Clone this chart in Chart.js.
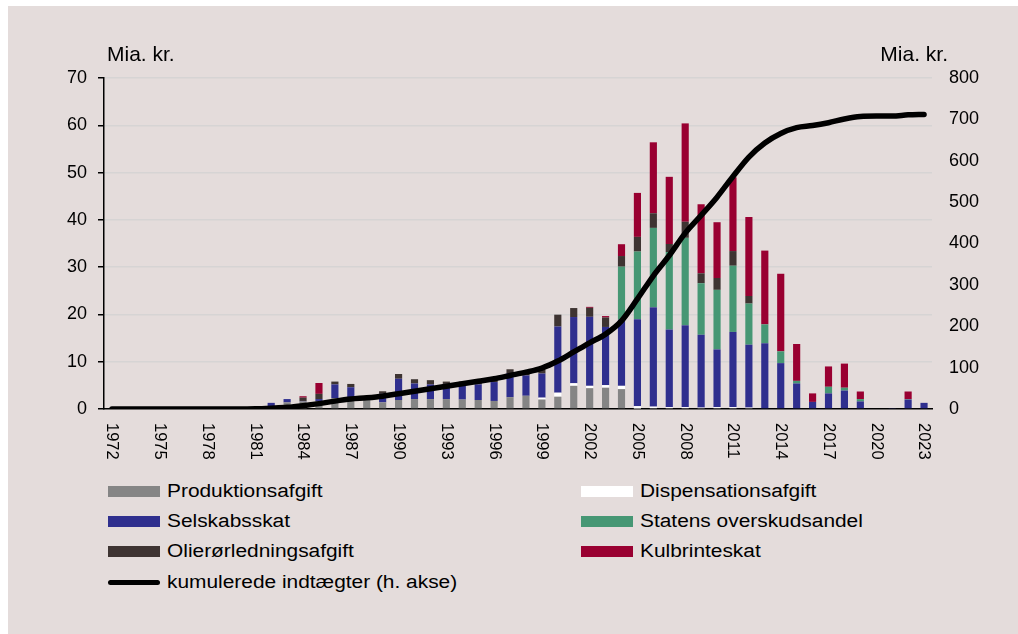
<!DOCTYPE html>
<html>
<head>
<meta charset="utf-8">
<script src="https://cdn.jsdelivr.net/npm/chart.js@4.4.1/dist/chart.umd.min.js"></script>
<style>
  html, body { margin: 0; padding: 0; background: #ffffff; overflow: hidden; width: 1018px; height: 634px; }
  #frame { position: absolute; left: 8px; top: 6px; width: 1010px; height: 628px; background: #e4dcdb; overflow: hidden; }
  #chart { position: absolute; left: 0; top: 0; }
  #legend { position: absolute; left: 100px; top: 470px; display: grid; grid-template-columns: 473px 340px; grid-auto-rows: 30.4px;
    font-family: "Liberation Sans", Arial, sans-serif; font-size: 18px; color: #000; }
  .item { display: flex; align-items: center; white-space: nowrap; }
  .swatch { width: 52px; height: 11px; margin-right: 7px; flex: none; }
  .swatch.line { height: 5px; border-radius: 3px; }
  .label { display: inline-block; transform: scaleX(1.16); transform-origin: left center; }
</style>
</head>
<body>
<div id="frame">
  <canvas id="chart" width="1010" height="470"></canvas>
  <div id="legend"></div>
</div>
<script>
// Data (mia. kr.)
const years = ['1972','1973','1974','1975','1976','1977','1978','1979','1980','1981',
    '1982','1983','1984','1985','1986','1987','1988','1989','1990','1991',
    '1992','1993','1994','1995','1996','1997','1998','1999','2000','2001',
    '2002','2003','2004','2005','2006','2007','2008','2009','2010','2011',
    '2012','2013','2014','2015','2016','2017','2018','2019','2020','2021',
    '2022','2023']
const year_ticks = ['1972','1975','1978','1981','1984','1987','1990','1993','1996','1999',
    '2002','2005','2008','2011','2014','2017','2020','2023']

const produktion = [0,0,0,0,0,0,0,0,0,0,
    0.3,1.4,1.6,1.7,2.3,2.5,2.4,1.4,1.9,2.1,
    2.1,2.1,2.0,1.9,1.7,2.5,2.8,2.0,2.6,4.9,
    4.4,4.5,4.2,0.1,0,0,0,0,0,0,
    0,0,0,0,0,0,0,0,0,0,
    0,0]
const dispensation = [0,0,0,0,0,0,0,0,0,0,
    0,0,0,0,0,0,0,0,0,0,
    0,0,0,0,0,0,0,0.4,0.85,0.55,
    0.5,0.55,0.7,0.5,0.5,0.4,0.4,0.3,0.4,0.4,
    0.3,0,0,0,0,0,0,0,0,0,
    0,0]
const selskabsskat = [0,0,0,0,0,0,0,0,0,0,
    1.0,0.7,0.1,0.4,2.9,2.1,0,1.8,4.5,3.3,
    3.1,3.2,3.2,3.3,4.0,5.1,4.3,5.1,14.0,14.0,
    14.6,12.3,14.0,18.4,21.0,16.4,17.3,15.4,12.2,15.9,
    13.3,13.9,9.7,5.4,1.5,3.3,3.9,1.6,0,0.2,
    2.0,1.3]
const overskudsandel = [0,0,0,0,0,0,0,0,0,0,
    0,0,0,0,0,0,0,0,0,0,
    0,0,0,0,0,0,0,0,0,0,
    0,0,11.2,14.3,16.8,16.4,18.5,10.9,12.6,14.0,
    8.7,4.0,2.5,0.55,0,1.4,0.6,0.5,0,0,
    0.1,0]
const olieroer = [0,0,0,0,0,0,0,0,0,0,
    0,0,0.7,1.1,0.6,0.7,0,0.55,1.0,0.9,
    0.9,0.5,0.6,0.8,0.9,0.8,0.5,0.85,2.5,1.9,
    1.9,2.0,2.25,3.1,3.1,1.7,3.4,2.1,2.5,3.1,
    1.6,0,0,0,0,0,0,0,0,0,
    0,0]
const kulbrinteskat = [0,0,0,0,0,0,0,0,0,0,
    0,0,0.3,2.3,0,0,0,0,0,0,
    0,0,0,0,0,0,0,0,0,0,
    0.2,0.3,2.5,9.3,15.0,14.2,20.8,14.6,11.8,15.6,
    16.7,15.6,16.4,7.8,1.8,4.3,5.1,1.6,0,0,
    1.6,0]
const kumuleret = [0,0,0,0,0,0,0,0,0,0.5,
    2,4,8,13,19,24,27,31,37,43,
    49,55,61,67,73,81,89,99,116,138,
    160,181,213,266,322,371,425,468,512,562,
    609,643,666,680,685,692,701,707,708,708,
    711,712]

const left_ticks = [0,10,20,30,40,50,60,70]
const right_ticks = [0,100,200,300,400,500,600,700,800]

const bar_series = [
    {label: 'Produktionsafgift', data: produktion, color: '#858585'},
    {label: 'Dispensationsafgift', data: dispensation, color: '#ffffff'},
    {label: 'Selskabsskat', data: selskabsskat, color: '#2f2f8e'},
    {label: 'Statens overskudsandel', data: overskudsandel, color: '#469774'},
    {label: 'Olierørledningsafgift', data: olieroer, color: '#3e3432'},
    {label: 'Kulbrinteskat', data: kulbrinteskat, color: '#990031'},
]
const line_label = 'kumulerede indtægter (h. akse)'

// legend order in the picture: left column first, then right, row by row
const legend_order = [0, 1, 2, 3, 4, 5]

const font_family = '"Liberation Sans", Arial, sans-serif'
Chart.defaults.font.family = font_family
Chart.defaults.color = '#000'

// year labels read downward, so they are drawn here instead of by the scale
const year_label_plugin = {
    id: 'year_labels',
    afterDraw: (chart) => {
        const {ctx, scales: {x}} = chart
        ctx.save()
        ctx.font = `16.5px ${font_family}`
        ctx.fillStyle = '#000'
        ctx.textAlign = 'left'
        ctx.textBaseline = 'middle'
        years.forEach((year, i) => {
            if (!year_ticks.includes(year)) return
            ctx.save()
            ctx.translate(x.getPixelForValue(i), x.top + 14)
            ctx.rotate(Math.PI / 2)
            ctx.fillText(year, 0, 0)
            ctx.restore()
        })
        ctx.restore()
    }
}

const axis_title_plugin = {
    id: 'axis_titles',
    afterDraw: (chart) => {
        const {ctx, chartArea} = chart
        ctx.save()
        ctx.font = `21px ${font_family}`
        ctx.fillStyle = '#000'
        ctx.textBaseline = 'alphabetic'
        ctx.textAlign = 'left'
        ctx.fillText('Mia. kr.', chartArea.left + 3, 55)
        ctx.textAlign = 'right'
        ctx.fillText('Mia. kr.', chartArea.right + 16, 55)
        ctx.restore()
    }
}

const datasets = bar_series.map(s => ({
    type: 'bar',
    label: s.label,
    data: s.data,
    backgroundColor: s.color,
    borderWidth: 0,
    stack: 'total',
    yAxisID: 'y',
    order: 1,
    barPercentage: 0.9,
    categoryPercentage: 0.5,
}))
datasets.push({
    type: 'line',
    label: line_label,
    data: kumuleret,
    yAxisID: 'y2',
    borderColor: '#000',
    borderWidth: 5.5,
    borderCapStyle: 'round',
    borderJoinStyle: 'round',
    cubicInterpolationMode: 'monotone',
    pointRadius: 0,
    fill: false,
    order: 0,
})

const chart = new Chart(document.getElementById('chart'), {
    data: {labels: years, datasets},
    options: {
        responsive: false,
        animation: false,
        devicePixelRatio: 1,
        layout: {padding: {top: 72, left: 0, right: 0, bottom: 0}},
        plugins: {legend: {display: false}, tooltip: {enabled: false}},
        scales: {
            x: {
                stacked: true,
                grid: {display: false},
                ticks: {display: false},
                border: {display: true, color: '#000', width: 1.5},
                afterFit: (scale) => { scale.height = 67 },
            },
            y: {
                position: 'left',
                stacked: true,
                min: 0,
                max: 70,
                afterBuildTicks: (scale) => { scale.ticks = left_ticks.map(v => ({value: v})) },
                ticks: {font: {size: 18}, padding: 11, color: '#000'},
                grid: {
                    color: (ctx) => ctx.tick && ctx.tick.value === 0 ? 'rgba(0,0,0,0)' : '#d6d4d4',
                    lineWidth: 1.5,
                    tickColor: '#000',
                    tickWidth: 1.5,
                    tickLength: 6,
                },
                border: {display: true, color: '#000', width: 1.5},
                afterFit: (scale) => { scale.width = 96 },
            },
            y2: {
                position: 'right',
                min: 0,
                max: 800,
                afterBuildTicks: (scale) => { scale.ticks = right_ticks.map(v => ({value: v})) },
                ticks: {font: {size: 18}, padding: 17, color: '#000'},
                grid: {display: false, drawTicks: false},
                border: {display: false},
                afterFit: (scale) => { scale.width = 86 },
            },
        },
    },
    plugins: [year_label_plugin, axis_title_plugin],
})

// Legend
const legend_elem = document.getElementById('legend')
const add_legend_item = (text, color, is_line) => {
    const item = document.createElement('div')
    item.className = 'item'
    const swatch = document.createElement('span')
    swatch.className = is_line ? 'swatch line' : 'swatch'
    swatch.style.background = color
    const label = document.createElement('span')
    label.className = 'label'
    label.textContent = text
    item.appendChild(swatch)
    item.appendChild(label)
    legend_elem.appendChild(item)
}
legend_order.forEach(i => add_legend_item(bar_series[i].label, bar_series[i].color, false))
add_legend_item(line_label, '#000', true)
</script>
</body>
</html>
